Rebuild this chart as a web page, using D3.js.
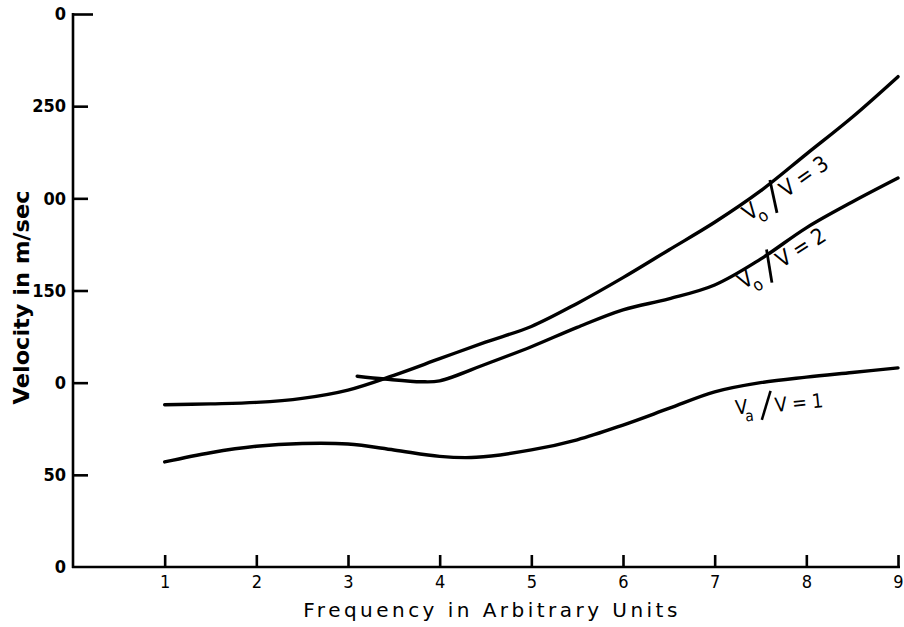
<!DOCTYPE html>
<html>
<head>
<meta charset="utf-8">
<script src="https://cdn.jsdelivr.net/npm/d3@7"></script>
<style>
  body { margin: 0; background: #fff; }
  svg { display: block; }
</style>
</head>
<body>
<div id="chart"></div>
<script>
// frequency points (arbitrary units) and velocities (m/sec)
var ratio1X = [1.0, 1.5, 2.0, 2.5, 3.0, 3.5, 4.0, 4.4, 5.0, 5.5, 6.0, 6.5, 7.0, 7.5, 8.0, 8.5, 9.0];
var ratio1Y = [57, 62, 65.5, 67, 66.7, 63.5, 60, 59.5, 63.5, 69, 77, 86, 95, 100, 103, 105.5, 108];

var ratio2X = [3.1, 3.4, 3.8, 4.0, 4.5, 5.0, 5.5, 6.0, 6.5, 7.0, 7.5, 8.0, 8.5, 9.0];
var ratio2Y = [103.5, 102, 100.5, 101, 110, 119.5, 130, 139.5, 145.5, 153, 167, 184, 198, 211];

var ratio3X = [1.0, 1.5, 2.0, 2.5, 3.0, 3.5, 4.0, 4.5, 5.0, 5.5, 6.0, 6.5, 7.0, 7.5, 8.0, 8.5, 9.0];
var ratio3Y = [88, 88.5, 89.3, 91.5, 96, 104, 113, 122, 130.5, 143, 157, 172, 187, 204, 224, 244, 266];

// axis ticks, labels as printed on the figure
var xTickValues = [1, 2, 3, 4, 5, 6, 7, 8, 9];
var yTickValues = [0, 50, 100, 150, 200, 250, 300];
var yTickLabels = ["0", "50", "0", "150", "00", "250", "0"];

// curve labels: V0/V = n, anchored in data units
var curveLabels = ["V = 1", "V = 2", "V = 3"];
var curveSubs = ["a", "o", "o"];
var labelX = [7.18, 7.25, 7.31];
var labelY = [84, 150.3, 187.2];

var svgWidth = 904;
var svgHeight = 627;

var margin = {
  top: 14,
  bottom: 60,
  right: 6,
  left: 73
};

var height = svgHeight - margin.top - margin.bottom;
var width = svgWidth - margin.left - margin.right;

var svg = d3.select("#chart")
  .append("svg")
  .attr("width", svgWidth)
  .attr("height", svgHeight);

var chartGroup = svg.append("g")
  .attr("transform", `translate(${margin.left}, ${margin.top})`);

// scales
var xLinearScale = d3.scaleLinear()
  .domain([0, 9])
  .range([0, width]);

var yLinearScale = d3.scaleLinear()
  .domain([0, 300])
  .range([height, 0]);

// axes
var xAxis = d3.axisBottom(xLinearScale)
  .tickValues(xTickValues)
  .tickFormat(d3.format("d"))
  .tickSize(-12)
  .tickSizeOuter(0)
  .tickPadding(8);

var yAxis = d3.axisLeft(yLinearScale)
  .tickValues(yTickValues)
  .tickFormat(function(d, i) { return yTickLabels[i]; })
  .tickSize(-15)
  .tickSizeOuter(0)
  .tickPadding(7);

var xAxisGroup = chartGroup.append("g")
  .attr("transform", `translate(0, ${height})`)
  .call(xAxis);

var yAxisGroup = chartGroup.append("g")
  .call(yAxis);

// axis styling
chartGroup.selectAll(".domain, .tick line")
  .attr("stroke", "#000")
  .attr("stroke-width", 2.6);

xAxisGroup.select(".domain").attr("d", `M-1,0H${width + 2}`);
yAxisGroup.select(".domain").attr("d", `M0,${height + 1}V-1`);

xAxisGroup.selectAll("text")
  .attr("font-family", "DejaVu Sans Condensed, DejaVu Sans, sans-serif")
  .attr("font-size", "18px")
  .attr("fill", "#000");

yAxisGroup.selectAll("text")
  .attr("font-family", "DejaVu Sans Condensed, DejaVu Sans, sans-serif")
  .attr("font-weight", "bold")
  .attr("font-size", "18px")
  .attr("fill", "#000");

// top tick runs a little longer
yAxisGroup.selectAll(".tick")
  .filter(function(d) { return d === 300; })
  .select("line")
  .attr("x2", 20);

// bottom tick sits on the x axis
yAxisGroup.selectAll(".tick")
  .filter(function(d) { return d === 0; })
  .select("line")
  .remove();

// curves
var line = d3.line()
  .x(d => xLinearScale(d[0]))
  .y(d => yLinearScale(d[1]))
  .curve(d3.curveCatmullRom.alpha(0.5));

var series = [
  d3.zip(ratio1X, ratio1Y),
  d3.zip(ratio2X, ratio2Y),
  d3.zip(ratio3X, ratio3Y)
];

chartGroup.selectAll(".curve")
  .data(series)
  .enter()
  .append("path")
  .classed("curve", true)
  .attr("d", line)
  .attr("fill", "none")
  .attr("stroke", "#000")
  .attr("stroke-width", 3.4)
  .attr("stroke-linecap", "round")
  .attr("stroke-linejoin", "round");

// curve labels, tilted along each curve
var labelAngle = [-6, -32, -35];
var labelScale = [0.9, 1, 1];

var labelGroup = chartGroup.selectAll(".curveLabel")
  .data(curveLabels)
  .enter()
  .append("g")
  .classed("curveLabel", true)
  .attr("transform", (d, i) =>
    `translate(${xLinearScale(labelX[i])}, ${yLinearScale(labelY[i])}) rotate(${labelAngle[i]}) scale(${labelScale[i]})`)
  .attr("font-family", "DejaVu Sans Condensed, DejaVu Sans, sans-serif")
  .attr("fill", "#000");

labelGroup.append("text")
  .attr("x", 5)
  .attr("y", 3)
  .attr("font-size", "22px")
  .text("V");

labelGroup.append("text")
  .attr("x", 15)
  .attr("y", 12)
  .attr("font-size", "17px")
  .text((d, i) => curveSubs[i]);

labelGroup.append("line")
  .attr("x1", 33)
  .attr("y1", 12)
  .attr("x2", 46)
  .attr("y2", -19)
  .attr("stroke", "#000")
  .attr("stroke-width", 2.8);

labelGroup.append("text")
  .attr("x", 49)
  .attr("y", 5)
  .attr("font-size", "22px")
  .attr("textLength", 54)
  .attr("lengthAdjust", "spacing")
  .text(d => d);

// axis titles
chartGroup.append("text")
  .attr("transform", "rotate(-90)")
  .attr("x", 0 - (height / 2) - 7)
  .attr("y", 0 - margin.left + 29)
  .attr("text-anchor", "middle")
  .attr("font-family", "DejaVu Sans, sans-serif")
  .attr("font-weight", "bold")
  .attr("font-size", "21px")
  .attr("textLength", 214)
  .attr("lengthAdjust", "spacingAndGlyphs")
  .text("Velocity in m/sec");

chartGroup.append("text")
  .attr("transform", `translate(${xLinearScale(5) - 41}, ${height + 50})`)
  .attr("text-anchor", "middle")
  .attr("font-family", "DejaVu Sans, sans-serif")
  .attr("font-size", "20px")
  .attr("textLength", 374)
  .attr("lengthAdjust", "spacing")
  .attr("fill", "#000")
  .text("Frequency in Arbitrary Units");
</script>
</body>
</html>
